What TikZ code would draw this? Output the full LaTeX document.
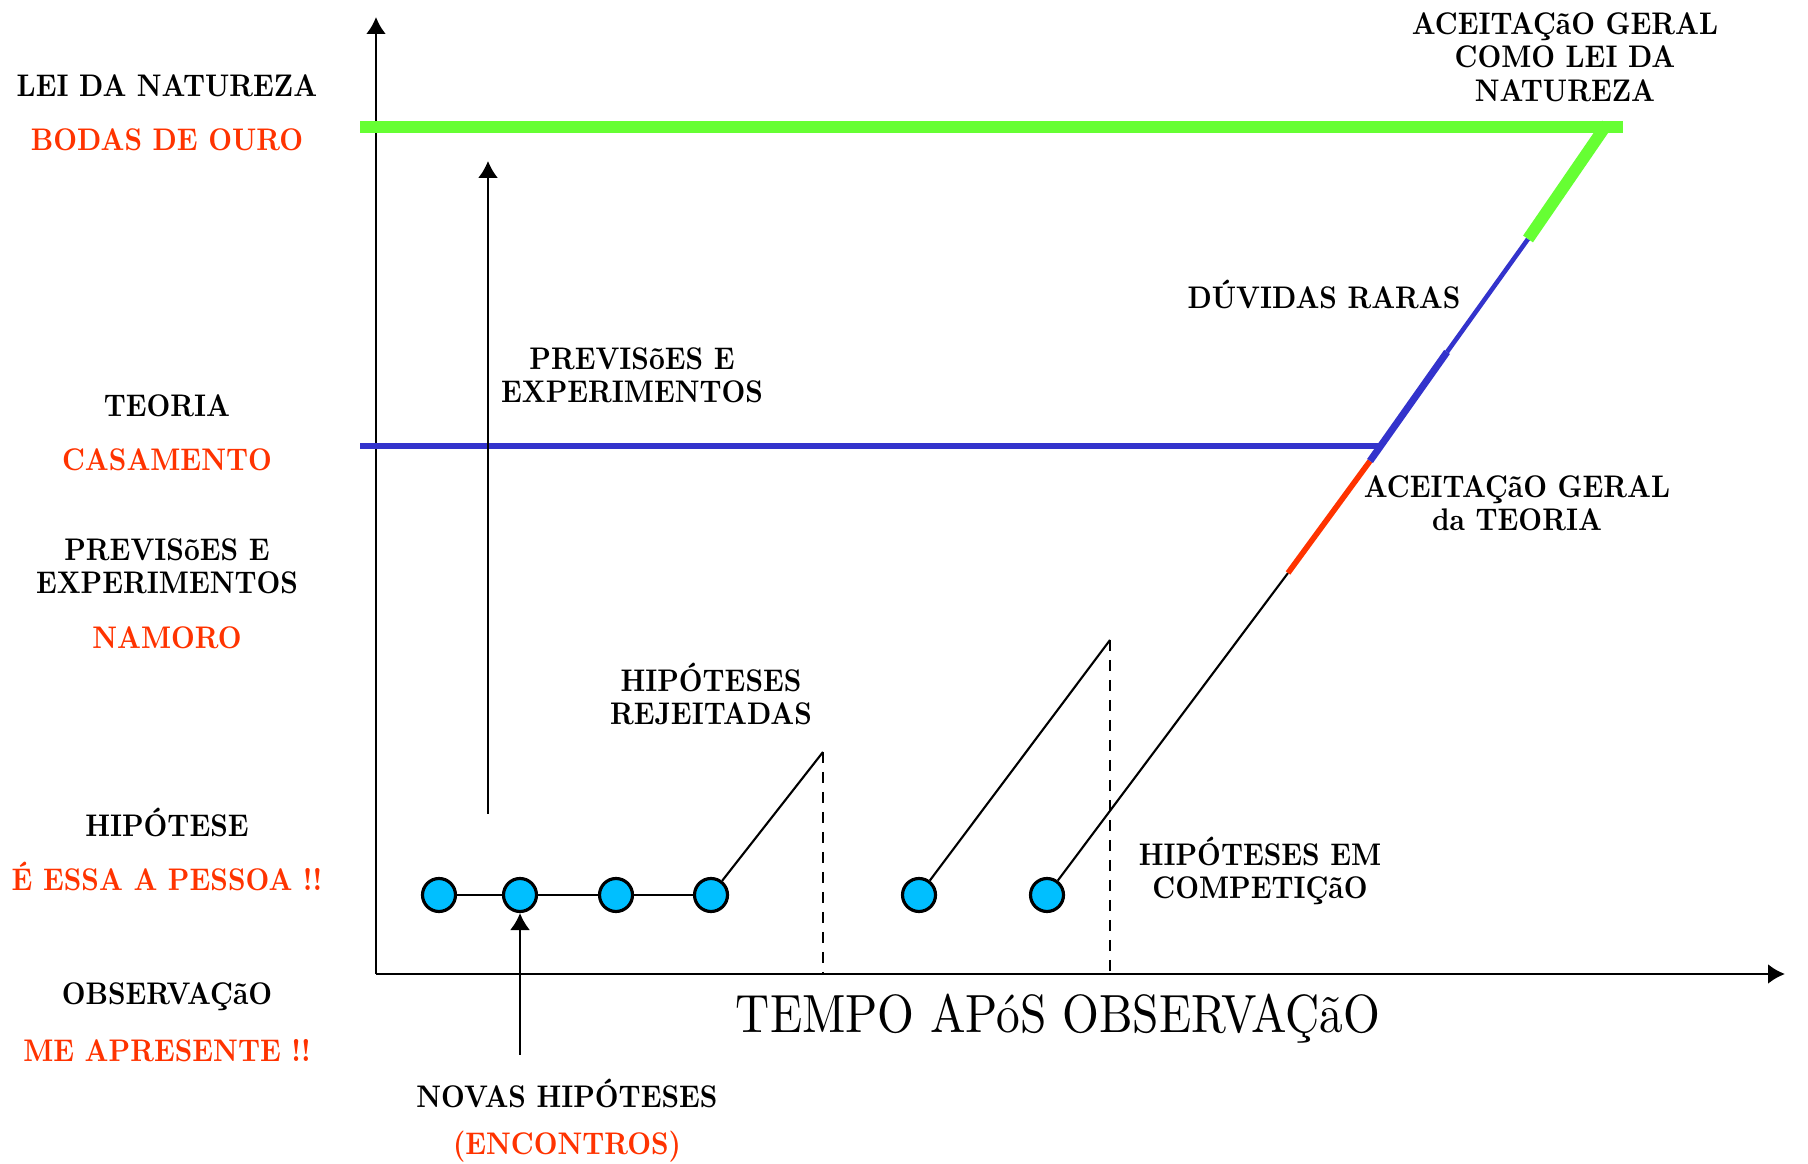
\documentclass[tikz,border=0pt]{standalone}
\usepackage{fontspec}
\setmainfont{lmroman10-regular}[Extension=.otf,BoldFont=lmroman10-bold,ItalicFont=lmroman10-italic,FakeStretch=0.88]
\usepackage{tikz}
\usetikzlibrary{arrows.meta}
\definecolor{verdelei}{RGB}{102,255,51}
\definecolor{azulteo}{RGB}{51,51,204}
\definecolor{vermelho}{RGB}{255,51,0}
\definecolor{cianohip}{RGB}{0,191,255}
\tikzset{>={Latex[length=1.7mm,width=2mm]}}
\tikzset{
  rotulo/.style={font=\fontsize{8.9}{9.5}\selectfont\bfseries,align=center,inner sep=0pt},
  rotuloverm/.style={rotulo,text=vermelho},
  hip/.style={circle,draw=black,fill=cianohip,line width=0.9pt,inner sep=0pt,minimum size=0.33cm},
  tracejado/.style={dash pattern=on 1.1mm off 0.9mm,line width=0.6pt},
  traco/.style={line width=0.6pt}
}

\begin{document}
\begin{tikzpicture}
\useasboundingbox (0,0) rectangle (18.08,11.64);

%%% Axes
\coordinate (O) at (3.76,1.90);
\coordinate (ytop) at (3.76,11.47);
\coordinate (xend) at (17.85,1.90);
\draw [->,line width=0.8pt] (O) -- (ytop);
\draw [->,line width=0.8pt] (O) -- (xend);

%%% Levels: lei (green) and teoria (blue)
\coordinate (gL) at (3.60,10.37);
\coordinate (gR) at (16.23,10.37);
\draw [verdelei,line width=3.4pt] (gL) -- (gR);
\coordinate (bL) at (3.60,7.18);
\coordinate (bR) at (13.82,7.18);
\draw [azulteo,line width=1.6pt] (bL) -- (bR);

%%% Hypotheses
\node[hip] (h1) at (4.39,2.69) {};
\node[hip] (h2) at (5.20,2.69) {};
\node[hip] (h3) at (6.16,2.69) {};
\node[hip] (h4) at (7.11,2.69) {};
\node[hip] (h5) at (9.19,2.69) {};
\node[hip] (h6) at (10.47,2.69) {};
\draw [traco] (h1) -- (h2) -- (h3) -- (h4);

%%% Rejected ones
\coordinate (r1) at (8.23,4.12);
\coordinate (r1b) at (8.23,1.90);
\draw [traco] (h4) -- (r1);
\draw [tracejado] (r1) -- (r1b);
\coordinate (r2) at (11.10,5.24);
\coordinate (r2b) at (11.10,1.90);
\draw [traco] (h5) -- (r2);
\draw [tracejado] (r2) -- (r2b);

%%% The one that survives
\coordinate (d1) at (12.88,5.91);
\coordinate (d2) at (13.70,7.03);
\coordinate (d3) at (14.47,8.12);
\coordinate (d4) at (15.28,9.25);
\coordinate (d5) at (16.07,10.40);
\draw [traco] (h6) -- (d1);
\draw [vermelho,line width=1.6pt] (d1) -- (d2);
\draw [azulteo,line width=2pt] (d2) -- (d3);
\draw [azulteo,line width=1.3pt] (d3) -- (d4);
\draw [verdelei,line width=3.4pt] (d4) -- (d5);

%%% Arrows
\coordinate (pb) at (4.88,3.50);
\coordinate (pt) at (4.88,10.03);
\draw [->,traco] (pb) -- (pt);
\coordinate (nb) at (5.20,1.09);
\draw [->,traco] (nb) -- (h2);

%%% Left column
\node[rotulo] (lei) at (1.67,10.78) {LEI DA NATUREZA};
\node[rotuloverm] (bodas) at (1.67,10.24) {BODAS DE OURO};
\node[rotulo] (teoria) at (1.67,7.58) {TEORIA};
\node[rotuloverm] (casam) at (1.67,7.04) {CASAMENTO};
\node[rotulo] (prev) at (1.67,5.98) {PREVISõES E\\EXPERIMENTOS};
\node[rotuloverm] (namoro) at (1.67,5.26) {NAMORO};
\node[rotulo] (hipot) at (1.67,3.42) {HIPÓTESE};
\node[rotuloverm] (pessoa) at (1.67,2.88) {É ESSA A PESSOA !!};
\node[rotulo] (obs) at (1.67,1.67) {OBSERVAÇãO};
\node[rotuloverm] (apres) at (1.67,1.13) {ME APRESENTE !!};

%%% Labels in the plot
\node[rotulo] (prevexp) at (6.32,7.89) {PREVISõES E\\EXPERIMENTOS};
\node[rotulo] (rejeit) at (7.11,4.70) {HIPÓTESES\\REJEITADAS};
\node[rotulo] (novas) at (5.67,0.71) {NOVAS HIPÓTESES};
\node[rotuloverm] (encont) at (5.67,0.17) {(ENCONTROS)};
\node[font=\fontsize{15.3}{18}\selectfont,inner sep=0pt] (tempo) at (10.58,1.45) {TEMPO APóS OBSERVAÇãO};
\node[rotulo] (compet) at (12.60,2.93) {HIPÓTESES EM\\COMPETIÇãO};
\node[rotulo] (duvidas) at (13.24,8.70) {DÚVIDAS RARAS};
\node[rotulo] (aceitteo) at (15.17,6.61) {ACEITAÇãO GERAL\\da TEORIA};
\node[rotulo] (aceitlei) at (15.65,11.07) {ACEITAÇãO GERAL\\COMO LEI DA\\NATUREZA};

\end{tikzpicture}
\end{document}
